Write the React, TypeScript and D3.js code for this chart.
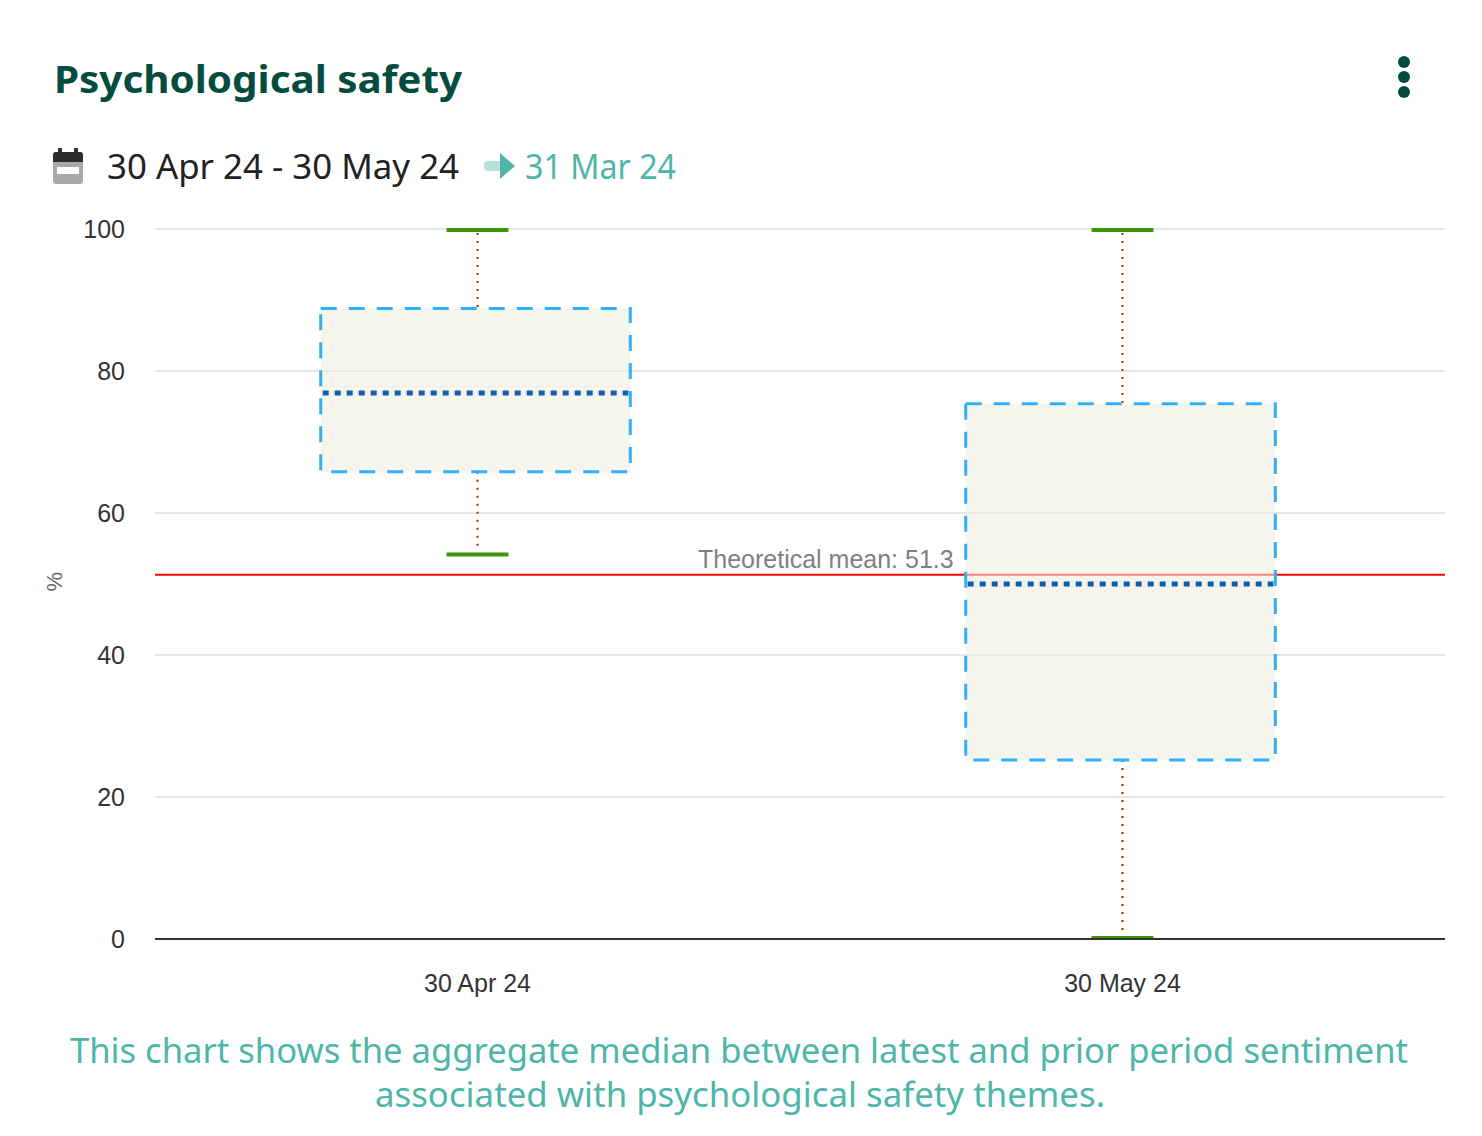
import React from 'react';
import * as d3 from 'd3';

// values
const categories = ['30 Apr 24', '30 May 24'];
const whiskerLow = [54, 0];
const q1 = [65.8, 25.2];
const medians = [76.9, 50];
const q3 = [88.8, 75.4];
const whiskerHigh = [100, 100];
const theoreticalMean = 51.3;
const yTicks = [0, 20, 40, 60, 80, 100];

const W = 1482;
const H = 1136;
const margin = { top: 229, right: 37, bottom: 197, left: 155 };

const headerFont = '"Noto Sans", Lato, sans-serif';
const axisFont = '"Liberation Sans", Arial, Helvetica, sans-serif';

const App: React.FC = () => {
  const x = d3.scaleBand<string>()
    .domain(categories)
    .range([margin.left, W - margin.right])
    .padding(0);

  const y = d3.scaleLinear()
    .domain([0, 100])
    .range([H - margin.bottom, margin.top]);

  const bw = x.bandwidth();
  const boxW = bw * 0.48;
  const capW = boxW * 0.2;

  const meanY = y(theoreticalMean);
  const box2Left = (x(categories[1]) || 0) + bw / 2 - boxW / 2 - 2;

  return (
    <div style={{ position: 'absolute', left: 0, top: 0 }}>
      <svg width={W} height={H} style={{ display: 'block', background: '#fff' }}>
        {/* header */}
        <text x={54} y={93} fontFamily={headerFont} fontWeight={700} fontSize={37}
          fill="#044d3e" textLength={408} lengthAdjust="spacingAndGlyphs">
          Psychological safety
        </text>
        <g fill="#044d3e">
          <circle cx={1404} cy={62} r={6} />
          <circle cx={1404} cy={77} r={6} />
          <circle cx={1404} cy={92} r={6} />
        </g>

        {/* calendar icon */}
        <g>
          <rect x={53} y={152} width={30} height={32} rx={3} fill="#a8a8a8" />
          <rect x={53} y={152} width={30} height={10} rx={3} fill="#2b2b2b" />
          <rect x={53} y={157} width={30} height={5} fill="#2b2b2b" />
          <rect x={58} y={148} width={4} height={7} rx={1} fill="#2b2b2b" />
          <rect x={74} y={148} width={4} height={7} rx={1} fill="#2b2b2b" />
          <rect x={57} y={167} width={22} height={7} fill="#fff" />
        </g>
        <text x={107} y={179} fontFamily={headerFont} fontSize={34} fill="#222"
          textLength={352} lengthAdjust="spacingAndGlyphs">
          30 Apr 24 - 30 May 24
        </text>
        {/* arrow icon */}
        <rect x={484} y={161} width={18} height={10} rx={4} fill="#b6e0da" />
        <path d="M500,153 L515,166 L500,179 Z" fill="#4db6a9" />
        <text x={525} y={179} fontFamily={headerFont} fontSize={34} fill="#4db6a9"
          textLength={151} lengthAdjust="spacingAndGlyphs">
          31 Mar 24
        </text>

        {/* grid */}
        {yTicks.filter(t => t !== 0).map(t => (
          <line key={t} x1={margin.left} x2={W - margin.right} y1={y(t)} y2={y(t)}
            stroke="#e6e6e6" strokeWidth={2} />
        ))}

        {/* y tick labels */}
        {yTicks.map(t => (
          <text key={t} x={125} y={y(t)} dy="0.35em" textAnchor="end"
            fontFamily={axisFont} fontSize={25} fill="#333">
            {t}
          </text>
        ))}
        <text transform={`translate(62,${meanY + 7}) rotate(-90)`} textAnchor="middle"
          fontFamily={axisFont} fontSize={22} fill="#666">%</text>

        {/* theoretical mean */}
        <line x1={margin.left} x2={W - margin.right} y1={meanY} y2={meanY}
          stroke="#ff0000" strokeWidth={2} />
        <text x={box2Left - 12} y={meanY - 7} textAnchor="end"
          fontFamily={axisFont} fontSize={25} fill="#808080">
          Theoretical mean: {theoreticalMean}
        </text>

        {/* boxes */}
        {categories.map((c, i) => {
          const cx = (x(c) || 0) + bw / 2;
          const left = cx - boxW / 2 - 2;
          return (
            <g key={c}>
              <line x1={cx} x2={cx} y1={y(whiskerHigh[i]) + 4} y2={y(q3[i])}
                stroke="#993300" strokeWidth={2} strokeDasharray="2,6" />
              <line x1={cx} x2={cx} y1={y(q1[i])} y2={y(whiskerLow[i]) - 4}
                stroke="#993300" strokeWidth={2} strokeDasharray="2,6" />
              <line x1={cx - capW / 2} x2={cx + capW / 2}
                y1={y(whiskerHigh[i]) + 1} y2={y(whiskerHigh[i]) + 1}
                stroke="#3f9600" strokeWidth={4} />
              <line x1={cx - capW / 2} x2={cx + capW / 2}
                y1={y(whiskerLow[i]) - 1} y2={y(whiskerLow[i]) - 1}
                stroke="#3f9600" strokeWidth={4} />
              <rect x={left} y={y(q3[i])} width={boxW} height={y(q1[i]) - y(q3[i])}
                fill="#ededE1" fillOpacity={0.56} stroke="#2eb0ff" strokeWidth={3}
                strokeDasharray="16,12" />
              <line x1={left + 2} x2={left + boxW - 2} y1={y(medians[i])} y2={y(medians[i])}
                stroke="#0e5fa8" strokeWidth={5} strokeDasharray="6,6" />
            </g>
          );
        })}

        {/* x axis */}
        <line x1={margin.left} x2={W - margin.right} y1={y(0)} y2={y(0)}
          stroke="#333" strokeWidth={2} />
        {categories.map(c => (
          <text key={c} x={(x(c) || 0) + bw / 2} y={992} textAnchor="middle"
            fontFamily={axisFont} fontSize={25} fill="#333">
            {c}
          </text>
        ))}

        {/* footer */}
        <text x={739} y={1063} textAnchor="middle" fontFamily={headerFont} fontSize={34}
          fill="#4db6a9" textLength={1338} lengthAdjust="spacingAndGlyphs">
          This chart shows the aggregate median between latest and prior period sentiment
        </text>
        <text x={740} y={1107} textAnchor="middle" fontFamily={headerFont} fontSize={34}
          fill="#4db6a9" textLength={730} lengthAdjust="spacingAndGlyphs">
          associated with psychological safety themes.
        </text>
      </svg>
    </div>
  );
};

export default App;
